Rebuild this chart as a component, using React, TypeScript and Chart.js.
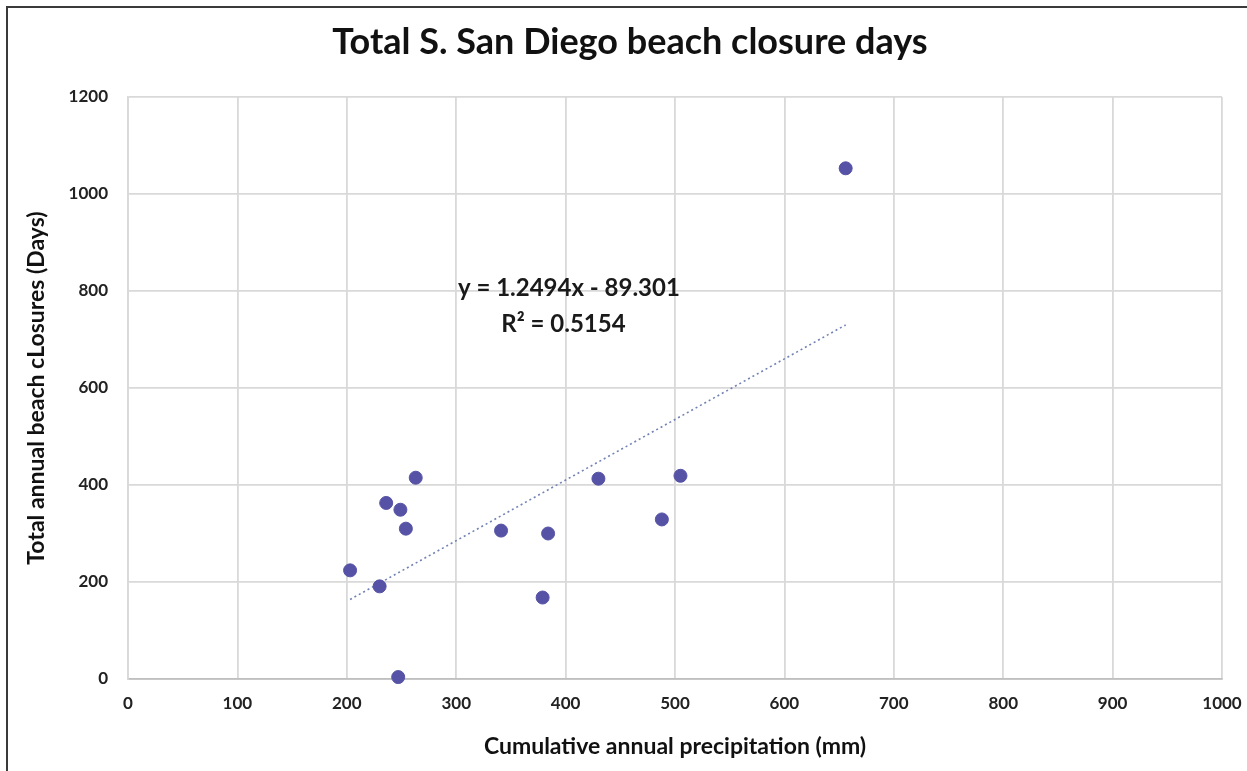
import React, { useEffect, useRef } from "react";
import { Chart, registerables } from "chart.js";

Chart.register(...registerables);

const TITLE = "Total S. San Diego beach closure days";
const X_TITLE = "Cumulative annual precipitation (mm)";
const Y_TITLE = "Total annual beach cLosures (Days)";
const EQUATION = "y = 1.2494x - 89.301";
const R_SQUARED = "R² = 0.5154";

const precipitation = [203, 230, 236, 249, 254, 263, 247, 341, 384, 379, 430, 488, 505, 656];
const closures = [224, 191, 363, 349, 310, 415, 4, 306, 300, 168, 413, 329, 419, 1053];

const trendX = [203, 656];
const trendY = [164, 730];

const FONT = "Lato, 'Open Sans', 'DejaVu Sans', sans-serif";

export default function App() {
  const ref = useRef<HTMLCanvasElement | null>(null);

  useEffect(() => {
    document.body.style.margin = "0";
    const canvas = ref.current;
    if (!canvas) return;

    const framePlugin = {
      id: "frame",
      beforeDraw(chart: any) {
        const ctx = chart.ctx;
        ctx.save();
        ctx.fillStyle = "#ffffff";
        ctx.fillRect(0, 0, chart.width, chart.height);
        ctx.strokeStyle = "#3a3a3a";
        ctx.lineWidth = 2;
        ctx.beginPath();
        ctx.moveTo(7, chart.height);
        ctx.lineTo(7, 7);
        ctx.lineTo(chart.width, 7);
        ctx.stroke();
        ctx.fillStyle = "#111111";
        ctx.font = `bold 36px ${FONT}`;
        ctx.textAlign = "center";
        ctx.textBaseline = "middle";
        ctx.fillText(TITLE, 630, 42);
        ctx.restore();
      },
      afterDatasetsDraw(chart: any) {
        const ctx = chart.ctx;
        const xs = chart.scales.x;
        const ys = chart.scales.y;
        ctx.save();
        ctx.fillStyle = "#1a1a1a";
        ctx.font = `bold 24px ${FONT}`;
        ctx.textAlign = "center";
        ctx.textBaseline = "middle";
        ctx.fillText(EQUATION, xs.getPixelForValue(403), ys.getPixelForValue(805));
        ctx.fillText(R_SQUARED, xs.getPixelForValue(398), ys.getPixelForValue(731));
        ctx.restore();
      },
    };

    const tickLabel = (v: any) => String(v);

    const chart = new Chart(canvas, {
      type: "scatter",
      data: {
        datasets: [
          {
            label: "Closures",
            data: precipitation.map((x, i) => ({ x, y: closures[i] })),
            backgroundColor: "#5653a6",
            borderColor: "#5653a6",
            pointRadius: 6.5,
            pointHoverRadius: 6.5,
            clip: false as any,
            order: 1,
          },
          {
            label: "Trend",
            type: "line" as any,
            data: trendX.map((x, i) => ({ x, y: trendY[i] })),
            borderColor: "#7282b4",
            borderWidth: 1.6,
            borderDash: [2, 3],
            pointRadius: 0,
            fill: false,
            showLine: true,
            order: 2,
          },
        ],
      },
      options: {
        responsive: false,
        animation: false,
        layout: { padding: { left: 0, right: 25, top: 97, bottom: 0 } },
        plugins: {
          legend: { display: false },
          tooltip: { enabled: false },
          title: { display: false },
        },
        scales: {
          x: {
            type: "linear",
            min: 0,
            max: 1000,
            ticks: {
              stepSize: 100,
              color: "#222222",
              font: { family: FONT, size: 17, weight: "bold" },
              padding: 14,
              maxRotation: 0,
              callback: tickLabel,
            },
            grid: { color: "#d9d9d9", lineWidth: 1.8, drawTicks: false },
            border: { color: "#bfbfbf", width: 1.8 },
            title: {
              display: true,
              text: X_TITLE,
              color: "#111111",
              font: { family: FONT, size: 23, weight: "bold" },
              padding: { top: 10, bottom: 11 },
            },
            afterFit(scale: any) {
              scale.height = 92;
              scale.paddingRight = 0;
              scale.paddingLeft = 0;
            },
          },
          y: {
            type: "linear",
            min: 0,
            max: 1200,
            ticks: {
              stepSize: 200,
              color: "#222222",
              font: { family: FONT, size: 17, weight: "bold" },
              padding: 20,
              callback: tickLabel,
            },
            grid: { color: "#d9d9d9", lineWidth: 1.8, drawTicks: false },
            border: { color: "#d9d9d9", width: 1.8 },
            title: {
              display: true,
              text: Y_TITLE,
              color: "#111111",
              font: { family: FONT, size: 23, weight: "bold" },
              padding: { top: 23, bottom: 10 },
            },
            afterFit(scale: any) {
              scale.width = 128;
            },
          },
        },
      },
      plugins: [framePlugin],
    });

    return () => chart.destroy();
  }, []);

  return (
    <div style={{ position: "fixed", left: 0, top: 0, width: 1247, height: 771, background: "#fff" }}>
      <canvas ref={ref} width={1247} height={771} style={{ display: "block" }} />
    </div>
  );
}
